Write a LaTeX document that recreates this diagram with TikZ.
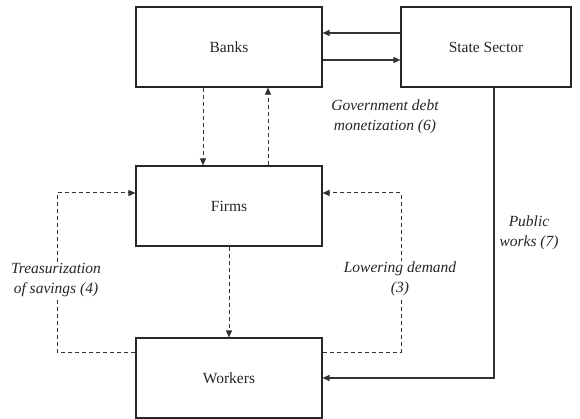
\documentclass[tikz,border=0pt]{standalone}
\usepackage{fontspec}
\setmainfont{Liberation Serif}
\usetikzlibrary{arrows.meta}
\begin{document}
\begin{tikzpicture}[x=1pt,y=-1pt,
  box/.style={draw=black!85,line width=1.1pt,minimum width=186pt,minimum height=80pt,inner sep=0pt,font=\fontsize{15.5}{19}\selectfont,text=black!85},
  tip/.style={-{Triangle[length=7pt,width=6pt]}},
  solidline/.style={tip,draw=black!80,line width=1.2pt},
  dashline/.style={tip,draw=black!80,line width=1pt,dash pattern=on 4pt off 3pt},
  lbl/.style={font=\fontsize{15.5}{19.5}\selectfont\itshape,align=center,text=black!85,inner sep=1pt},
]
\useasboundingbox (0,0) rectangle (580,419);
\node[box] (banks) at (229,47) {Banks};
\node[box,minimum width=170pt] (state) at (486,47) {State Sector};
\node[box] (firms) at (229,206) {Firms};
\node[box] (workers) at (229,378) {Workers};

\draw[solidline] ([yshift=14pt]state.west) -- ([yshift=14pt]banks.east);
\draw[solidline] ([yshift=-13pt]banks.east) -- ([yshift=-13pt]state.west);

\draw[dashline] ([xshift=-26pt]banks.south) -- ([xshift=-26pt]firms.north);
\draw[dashline] ([xshift=39pt]firms.north) -- ([xshift=39pt]banks.south);
\draw[dashline] (firms.south) -- (workers.north);

\coordinate (lb) at (57,352);
\coordinate (lt) at (57,193);
\coordinate (rb) at (401,352);
\coordinate (rt) at (401,193);
\draw[dashline] ([yshift=26pt]workers.west) -- (lb) -- (lt) -- ([yshift=13pt]firms.west);
\draw[dashline] ([yshift=26pt]workers.east) -- (rb) -- (rt) -- ([yshift=13pt]firms.east);

\draw[solidline] ([xshift=8pt]state.south) |- (workers.east);

\node[lbl] (gov) at (385,117) {Government debt\\monetization (6)};
\node[lbl] (pub) at (529,233) {Public\\works (7)};
\node[lbl,fill=white] (treas) at (56,280) {Treasurization\\of savings (4)};
\node[lbl,fill=white] (lower) at (400,279) {Lowering demand\\(3)};
\end{tikzpicture}
\end{document}
